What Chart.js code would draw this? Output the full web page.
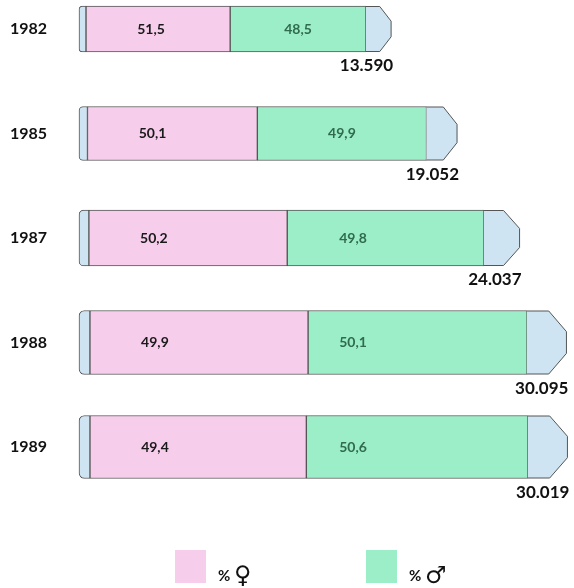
<!DOCTYPE html>
<html><head><meta charset="utf-8">
<script src="https://cdn.jsdelivr.net/npm/chart.js@4.4.0/dist/chart.umd.min.js"></script>
<style>html,body{margin:0;padding:0;background:#fff}#wrap{width:574px;height:588px}</style>
</head><body><div id="wrap"><canvas id="c" width="574" height="588"></canvas></div>
<script>
// ---- data ----
const years = ['1982', '1985', '1987', '1988', '1989'];
const femalePct = [51.5, 50.1, 50.2, 49.9, 49.4];
const malePct = [48.5, 49.9, 49.8, 50.1, 50.6];
const totals = ['13.590', '19.052', '24.037', '30.095', '30.019'];
// relative drawn length of each bar (1989 = 100)
const drawnLength = [63.9, 77.4, 90.2, 99.8, 100];
const legendLabels = ['♀', '♂'];

// ---- style ----
const barHeights = [46, 54, 56, 64, 63];
const PINK = '#f6cdea', GREEN = '#9ceec8', BLUE = '#cfe4f2', EDGE = '#555';
const FONT = 'Lato, "DejaVu Sans", sans-serif';
const leftCapShare = 0.025, rightCapShare = 0.09;

const datasets = [];
years.forEach((yr, i) => {
  const len = drawnLength[i];
  const only = v => years.map((_, j) => j === i ? v : null);
  const common = { barThickness: barHeights[i], clip: false, borderSkipped: false, yearIndex: i };
  datasets.push(Object.assign({}, common, { role: 'left', data: only(len * leftCapShare),
    backgroundColor: BLUE, borderColor: EDGE, borderWidth: 1,
    borderRadius: { topLeft: 7, bottomLeft: 7, topRight: 0, bottomRight: 0 } }));
  datasets.push(Object.assign({}, common, { role: 'f', data: only(len * femalePct[i] / 100),
    backgroundColor: PINK, borderColor: EDGE, borderWidth: 1 }));
  datasets.push(Object.assign({}, common, { role: 'm', data: only(len * malePct[i] / 100),
    backgroundColor: GREEN, borderColor: EDGE, borderWidth: 1 }));
  datasets.push(Object.assign({}, common, { role: 'right', data: only(len * rightCapShare),
    backgroundColor: 'rgba(0,0,0,0)', borderWidth: 0 }));
});

const fmt = v => v.toFixed(1).replace('.', ',');

const decor = {
  id: 'decor',
  afterDatasetsDraw(chart) {
    const ctx = chart.ctx;
    ctx.save();
    chart.data.datasets.forEach((ds, di) => {
      const i = ds.yearIndex;
      const el = chart.getDatasetMeta(di).data[i];
      if (!el) return;
      const p = el.getProps(['x', 'base', 'y', 'height'], true);
      const x0 = Math.min(p.x, p.base), x1 = Math.max(p.x, p.base);
      const top = p.y - p.height / 2, bot = p.y + p.height / 2;
      if (ds.role === 'right') {
        const w = x1 - x0, xa = x0 + 0.55 * w, dy = 0.33 * p.height;
        ctx.beginPath();
        ctx.moveTo(x0, top + 0.5);
        ctx.lineTo(xa, top + 0.5);
        ctx.lineTo(x1, top + dy);
        ctx.lineTo(x1, bot - dy);
        ctx.lineTo(xa, bot - 0.5);
        ctx.lineTo(x0, bot - 0.5);
        ctx.closePath();
        ctx.fillStyle = BLUE; ctx.fill();
        ctx.beginPath();
        ctx.moveTo(x0, top + 0.5);
        ctx.lineTo(xa, top + 0.5);
        ctx.lineTo(x1, top + dy);
        ctx.lineTo(x1, bot - dy);
        ctx.lineTo(xa, bot - 0.5);
        ctx.lineTo(x0, bot - 0.5);
        ctx.strokeStyle = EDGE; ctx.lineWidth = 1; ctx.stroke();
        // total label
        ctx.font = 'bold 17px ' + FONT;
        ctx.fillStyle = '#111';
        ctx.textAlign = 'right'; ctx.textBaseline = 'middle';
        ctx.fillText(totals[i], x1 + 2, bot + 14);
      } else if (ds.role === 'f') {
        ctx.font = 'bold 14px ' + FONT;
        ctx.fillStyle = '#1a1a1a';
        ctx.textAlign = 'center'; ctx.textBaseline = 'middle';
        ctx.fillText(fmt(femalePct[i]), x0 + 65, p.y);
      } else if (ds.role === 'm') {
        ctx.font = 'bold 14px ' + FONT;
        ctx.fillStyle = '#2f6b4c';
        ctx.textAlign = 'center'; ctx.textBaseline = 'middle';
        ctx.fillText(fmt(malePct[i]), Math.min((x0 + x1) / 2, 353), p.y);
      }
    });
    // legend
    const items = [{ c: PINK, x: 175, s: legendLabels[0] }, { c: GREEN, x: 366, s: legendLabels[1] }];
    items.forEach(it => {
      ctx.fillStyle = it.c;
      ctx.fillRect(it.x, 550, 31, 33);
      ctx.fillStyle = '#111';
      ctx.textAlign = 'left'; ctx.textBaseline = 'alphabetic';
      ctx.font = 'bold 15px ' + FONT;
      ctx.fillText('%', it.x + 43, 581);
      ctx.font = '24px "DejaVu Sans", sans-serif';
      ctx.fillText(it.s, it.x + 59, 583);
    });
    ctx.restore();
  }
};

new Chart(document.getElementById('c'), {
  type: 'bar',
  data: { labels: years, datasets },
  options: {
    indexAxis: 'y',
    responsive: false,
    animation: false,
    devicePixelRatio: 1,
    layout: { padding: { top: 29, bottom: 141, left: 10, right: 0 } },
    plugins: { legend: { display: false }, tooltip: { enabled: false } },
    scales: {
      x: { stacked: true, display: false, min: 0, max: 113 },
      y: {
        stacked: true,
        offset: false,
        grid: { display: false, drawTicks: false },
        border: { display: false },
        ticks: { color: '#111', padding: 0, crossAlign: 'far', font: { family: FONT, weight: 'bold', size: 16 } },
        afterFit(scale) { scale.width = 69; }
      }
    }
  },
  plugins: [decor]
});
</script>
</body></html>
